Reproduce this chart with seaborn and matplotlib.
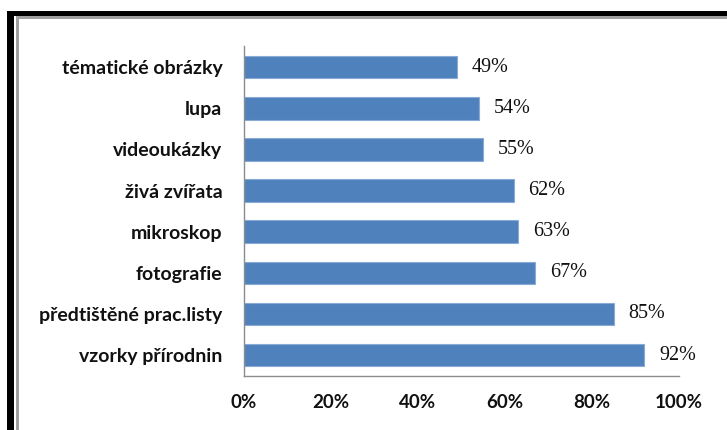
import matplotlib
matplotlib.use("Agg")
import matplotlib.pyplot as plt
import seaborn as sns
import pandas as pd
from matplotlib.patches import Rectangle

categories = ["tématické obrázky", "lupa", "videoukázky", "živá zvířata",
              "mikroskop", "fotografie", "předtištěné prac.listy", "vzorky přírodnin"]
values = [49, 54, 55, 62, 63, 67, 85, 92]
xticks = [0, 20, 40, 60, 80, 100]
xtick_labels = ["0%", "20%", "40%", "60%", "80%", "100%"]

sns.set_theme(style="white")
plt.rcParams["font.family"] = ["Lato", "DejaVu Sans"]

W, H = 727, 430
fig = plt.figure(figsize=(W / 100, H / 100), dpi=100)
fig.patch.set_facecolor("white")

# axes placed in pixel terms: x 244..679, y (from top) 46.5..375.7
left, right, top, bottom = 244, 679, 46.5, 375.7
ax = fig.add_axes([left / W, 1 - bottom / H, (right - left) / W, (bottom - top) / H])

df = pd.DataFrame({"kategorie": categories, "podil": values})
sns.barplot(data=df, x="podil", y="kategorie", orient="h", ax=ax,
            color="#4F81BD", saturation=1, width=0.55,
            edgecolor="#8AAAD6", linewidth=0.8)

ax.set_xlim(0, 100)
ax.set_ylim(len(categories) - 0.5, -0.5)
ax.set_xticks(xticks)
ax.set_xticklabels(xtick_labels, fontsize=13.5, fontweight="bold", color="#111111")
ax.tick_params(axis="x", length=0, pad=13)
ax.tick_params(axis="y", length=0, pad=15.5, labelsize=14)
for lbl in ax.get_yticklabels():
    lbl.set_fontweight("bold")
    lbl.set_color("#111111")
ax.set_xlabel("")
ax.set_ylabel("")

for s in ["top", "right"]:
    ax.spines[s].set_visible(False)
for s in ["left", "bottom"]:
    ax.spines[s].set_color("#8C8C8C")
    ax.spines[s].set_linewidth(1.0)

# value labels
for i, v in enumerate(values):
    ax.text(v + 3.4, i, f"{v}%", va="center", ha="left",
            fontsize=14.5, family=["Liberation Serif"], color="#111111")

# frame: thick black edge on left and top, thin gray line inside
def px_rect(x0, y0, x1, y1, color):
    fig.add_artist(Rectangle((x0 / W, 1 - y1 / H), (x1 - x0) / W, (y1 - y0) / H,
                             transform=fig.transFigure, facecolor=color,
                             edgecolor="none", zorder=10))

px_rect(7, 11, 13.5, H, "black")
px_rect(7, 11, W, 16, "black")
px_rect(16, 16, 18.5, H, "#A0A0A0")
px_rect(16, 16, W, 18.5, "#A0A0A0")

fig.savefig("out.png", dpi=100, facecolor="white")
